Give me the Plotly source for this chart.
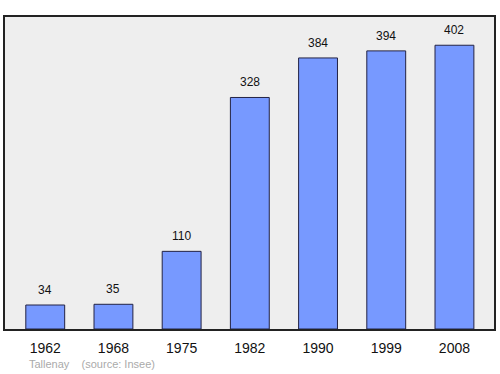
import plotly.graph_objects as go

years = ["1962", "1968", "1975", "1982", "1990", "1999", "2008"]
population = [34, 35, 110, 328, 384, 394, 402]
caption = "Tallenay    (source: Insee)"

fig = go.Figure()
fig.add_trace(go.Bar(
    x=years, y=population,
    marker=dict(color="#7799ff", line=dict(color="#222244", width=1)),
    width=0.57,
    hoverinfo="skip",
))

annots = [dict(
    x=i, y=v, xref="x", yref="y", text=str(v), showarrow=False,
    yanchor="bottom", xanchor="center", yshift=6,
    font=dict(family="Liberation Sans, Arial, sans-serif", size=12, color="#111111"),
) for i, v in enumerate(population)]

annots.append(dict(
    text=caption, xref="paper", yref="paper",
    x=0.046, y=-0.088, xanchor="left", yanchor="top",
    showarrow=False,
    font=dict(family="Liberation Sans, Arial, sans-serif", size=11, color="#aaaaaa"),
))

fig.update_layout(
    width=500, height=374,
    margin=dict(l=5, r=6, t=17, b=45),
    paper_bgcolor="white",
    plot_bgcolor="#eeeeee",
    showlegend=False,
    xaxis=dict(
        type="category",
        range=[-0.59, 6.58],
        showgrid=False, zeroline=False,
        showline=True, linecolor="#222222", linewidth=1.5, mirror=True,
        ticks="", ticklen=0, ticklabelstandoff=5,
        tickfont=dict(family="Liberation Sans, Arial, sans-serif", size=14, color="#111111"),
    ),
    yaxis=dict(
        range=[0, 442],
        showgrid=False, zeroline=False,
        showline=True, linecolor="#222222", linewidth=1.5, mirror=True,
        showticklabels=False, ticks="",
    ),
    annotations=annots,
)

fig.write_html("out.html")
